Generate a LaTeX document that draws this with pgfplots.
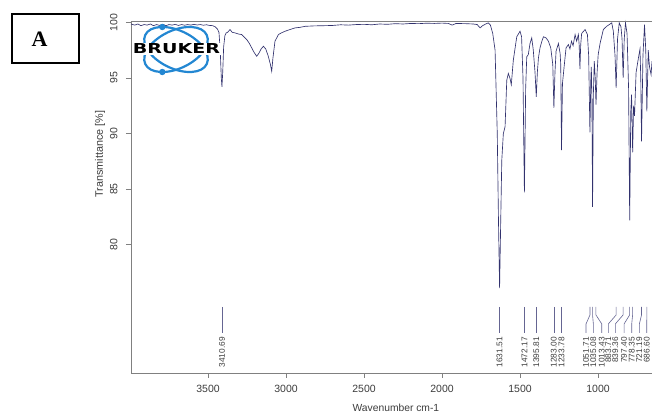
\documentclass[border=0pt]{standalone}
\usepackage{pgfplots}
\pgfplotsset{compat=1.18}
\usepackage{fontspec}
\setmainfont{Liberation Sans}
\newfontfamily\serifb{Liberation Serif}
\newfontfamily\logofont{DejaVu Sans}
\definecolor{spec}{RGB}{50,50,110}
\definecolor{axgray}{RGB}{128,128,128}
\definecolor{txt}{RGB}{60,60,60}
\definecolor{brukerblue}{RGB}{35,135,210}
\begin{document}
\begin{tikzpicture}[x=1pt,y=1pt]
\path[use as bounding box] (0,0) rectangle (652,414);
\begin{axis}[
  at={(131pt,41pt)}, anchor=south west,
  width=521pt, height=352pt, scale only axis,
  xmin=654, xmax=3994, x dir=reverse,
  ymin=68.47, ymax=100.12,
  axis x line*=bottom, axis y line*=left,
  axis line style={axgray, line width=0.8pt, -},
  tick align=outside,
  major tick length=5pt,
  tick style={axgray, line width=0.8pt},
  xtick={1000,1500,2000,2500,3000,3500},
  ytick={80,85,90,95,100},
  /pgf/number format/assume math mode=true,
  /pgf/number format/1000 sep={},
  tick label style={font=\fontsize{10.5}{12}\selectfont, text=txt},
  xticklabel style={yshift=-4pt},
  yticklabel style={rotate=90, anchor=south, yshift=5pt},
  xlabel={Wavenumber cm-1},
  xlabel style={at={(rel axis cs:0.5085,-0.0994)}, anchor=center, font=\fontsize{10.3}{12}\selectfont, text=txt},
  ylabel={Transmittance [\%]},
  ylabel style={at={(rel axis cs:-0.0595,0.622)}, anchor=center, font=\fontsize{10.8}{12}\selectfont, text=txt},
  clip=false,
]
\addplot[spec, line width=0.65pt] coordinates {
(3994,99.85) (3970,99.75) (3950,99.85) (3930,99.7) (3910,99.8) (3890,99.75) (3870,99.85) (3850,99.7)
(3830,99.8) (3810,99.72) (3790,99.82) (3770,99.7) (3750,99.8) (3730,99.75) (3710,99.82) (3690,99.72)
(3670,99.8) (3650,99.74) (3630,99.8) (3610,99.75) (3590,99.82) (3570,99.76) (3550,99.8) (3530,99.74)
(3510,99.78) (3490,99.72) (3470,99.7) (3455,99.6) (3440,99.4) (3430,99.1) (3422,97.5) (3415,95.0)
(3411,94.2) (3406,95.5) (3400,97.8) (3392,98.8) (3384,99.05) (3375,99.1) (3359,99.35) (3345,99.1)
(3327,99.05) (3305,98.95) (3284,98.9) (3270,98.7) (3252,98.45) (3235,98.1) (3220,97.7) (3205,97.3)
(3188,96.95) (3175,97.2) (3160,97.6) (3145,97.85) (3130,97.6) (3115,97.0) (3100,96.2) (3092,95.6)
(3084,96.8) (3071,98.3) (3049,98.9) (3030,99.05) (3006,99.2) (2975,99.35) (2942,99.5) (2910,99.55)
(2878,99.64) (2820,99.68) (2750,99.7) (2700,99.72) (2650,99.78) (2600,99.75) (2550,99.8) (2500,99.82)
(2450,99.78) (2400,99.85) (2350,99.82) (2300,99.88) (2250,99.85) (2200,99.9) (2150,99.88) (2100,99.92)
(2050,99.9) (2000,99.93) (1960,99.9) (1935,99.75) (1910,99.9) (1850,99.88) (1800,99.85) (1775,99.8)
(1756,99.5) (1740,99.7) (1720,99.85) (1703,99.95) (1690,99.75) (1675,99.0) (1660,97.5) (1646,90.0)
(1638,82.0) (1631,76.1) (1624,82.0) (1617,87.6) (1607,90.0) (1596,90.6) (1585,94.8) (1575,95.4)
(1565,95.0) (1556,94.4) (1543,96.6) (1521,98.7) (1500,99.2) (1490,98.7) (1481,95.0) (1472,84.7)
(1464,94.0) (1457,96.9) (1447,97.1) (1436,98.1) (1425,98.6) (1415,97.5) (1404,95.5) (1396,93.3)
(1389,95.5) (1382,96.8) (1372,97.7) (1360,98.3) (1350,98.7) (1333,98.6) (1318,98.3) (1303,97.7)
(1290,96.2) (1283,92.3) (1276,95.5) (1269,97.4) (1254,98.1) (1243,97.2) (1239,96.2) (1234,88.5)
(1228,94.5) (1216,96.2) (1205,97.7) (1190,98.0) (1180,97.6) (1170,98.3) (1160,97.9) (1147,98.9)
(1137,98.3) (1126,98.9) (1121,98.0) (1116,95.8) (1111,98.0) (1105,99.0) (1083,99.35) (1068,98.9)
(1060,97.0) (1052,90.1) (1046,95.0) (1043,96.0) (1039,93.0) (1035,83.4) (1030,93.5) (1024,96.5)
(1018,95.0) (1013,92.6) (1006,95.5) (999,97.1) (987,98.1) (966,99.35) (944,99.65) (912,99.95)
(902,99.2) (891,97.0) (884,94.1) (875,98.5) (864,99.95) (853,99.6) (846,98.5) (839,95.0)
(832,98.5) (824,99.95) (814,99.0) (804,94.0) (797,82.2) (790,92.0) (785,93.5) (778,88.3)
(772,92.5) (766,91.6) (756,95.5) (741,96.8) (731,97.6) (726,95.0) (721,89.3) (712,97.0)
(702,99.8) (694,97.5) (687,92.0) (678,97.5) (670,96.0) (660,95.3) (654,96.5)
};
\draw[axgray, line width=0.8pt] (rel axis cs:0,1) -- (rel axis cs:1,1);
% peak markers
\draw[spec!75, line width=0.6pt] (axis cs:3410.69,74.41) -- (axis cs:3410.69,72.07);
\draw[spec!75, line width=0.6pt] (axis cs:1631.51,74.41) -- (axis cs:1631.51,72.07);
\draw[spec!75, line width=0.6pt] (axis cs:1472.17,74.41) -- (axis cs:1472.17,72.07);
\draw[spec!75, line width=0.6pt] (axis cs:1395.81,74.41) -- (axis cs:1395.81,72.07);
\draw[spec!75, line width=0.6pt] (axis cs:1283.00,74.41) -- (axis cs:1283.00,72.07);
\draw[spec!75, line width=0.6pt] (axis cs:1233.78,74.41) -- (axis cs:1233.78,72.07);
\draw[spec!75, line width=0.6pt] (axis cs:1051.71,74.41) -- (axis cs:1051.71,73.69) -- (axis cs:1077,72.88) -- (axis cs:1077,72.07);
\draw[spec!75, line width=0.6pt] (axis cs:1035.08,74.41) -- (axis cs:1035.08,73.69) -- (axis cs:1030,72.88) -- (axis cs:1030,72.07);
\draw[spec!75, line width=0.6pt] (axis cs:1013.43,74.41) -- (axis cs:1013.43,73.69) -- (axis cs:976,72.88) -- (axis cs:976,72.07);
\draw[spec!75, line width=0.6pt] (axis cs:883.71,74.41) -- (axis cs:883.71,73.69) -- (axis cs:934,72.88) -- (axis cs:934,72.07);
\draw[spec!75, line width=0.6pt] (axis cs:839.36,74.41) -- (axis cs:839.36,73.69) -- (axis cs:889,72.88) -- (axis cs:889,72.07);
\draw[spec!75, line width=0.6pt] (axis cs:797.40,74.41) -- (axis cs:797.40,73.69) -- (axis cs:833,72.88) -- (axis cs:833,72.07);
\draw[spec!75, line width=0.6pt] (axis cs:778.35,74.41) -- (axis cs:778.35,73.69) -- (axis cs:784,72.88) -- (axis cs:784,72.07);
\draw[spec!75, line width=0.6pt] (axis cs:721.19,74.41) -- (axis cs:721.19,73.69) -- (axis cs:735,72.88) -- (axis cs:735,72.07);
\draw[spec!75, line width=0.6pt] (axis cs:686.60,74.41) -- (axis cs:686.60,73.69) -- (axis cs:688,72.88) -- (axis cs:688,72.07);
\tikzset{pk/.style={rotate=90, anchor=east, inner sep=0pt, text=txt, font=\fontsize{8.3}{9}\selectfont}}
\node[pk] at (axis cs:3410.69,71.7) {3410.69};
\node[pk] at (axis cs:1631.51,71.7) {1631.51};
\node[pk] at (axis cs:1472.17,71.7) {1472.17};
\node[pk] at (axis cs:1395.81,71.7) {1395.81};
\node[pk] at (axis cs:1283.00,71.7) {1283.00};
\node[pk] at (axis cs:1233.78,71.7) {1233.78};
\node[pk] at (axis cs:1077,71.7) {1051.71};
\node[pk] at (axis cs:1030,71.7) {1035.08};
\node[pk] at (axis cs:976,71.7) {1013.43};
\node[pk] at (axis cs:934,71.7) {883.71};
\node[pk] at (axis cs:889,71.7) {839.36};
\node[pk] at (axis cs:833,71.7) {797.40};
\node[pk] at (axis cs:784,71.7) {778.35};
\node[pk] at (axis cs:735,71.7) {721.19};
\node[pk] at (axis cs:688,71.7) {686.60};
\end{axis}
% Bruker logo
\draw[brukerblue, line width=2.2pt, rotate around={-25.4:(176,364.5)}] (176,364.5) ellipse [x radius=34, y radius=19];
\draw[brukerblue, line width=2.2pt, rotate around={25.4:(176,364.5)}] (176,364.5) ellipse [x radius=34, y radius=19];
\fill[brukerblue] (162.3,387) circle (3.2);
\fill[brukerblue] (162.3,342) circle (3.2);
\node[fill=white, inner sep=1pt, xscale=1.39, font=\logofont\bfseries\fontsize{13.7}{15}\selectfont] at (176.5,365) {BRUKER};
% panel label
\draw[line width=2pt] (12,400) rectangle (78.5,351.3);
\node[font=\serifb\bfseries\fontsize{22}{24}\selectfont] at (39.5,374.8) {A};
\end{tikzpicture}
\end{document}
